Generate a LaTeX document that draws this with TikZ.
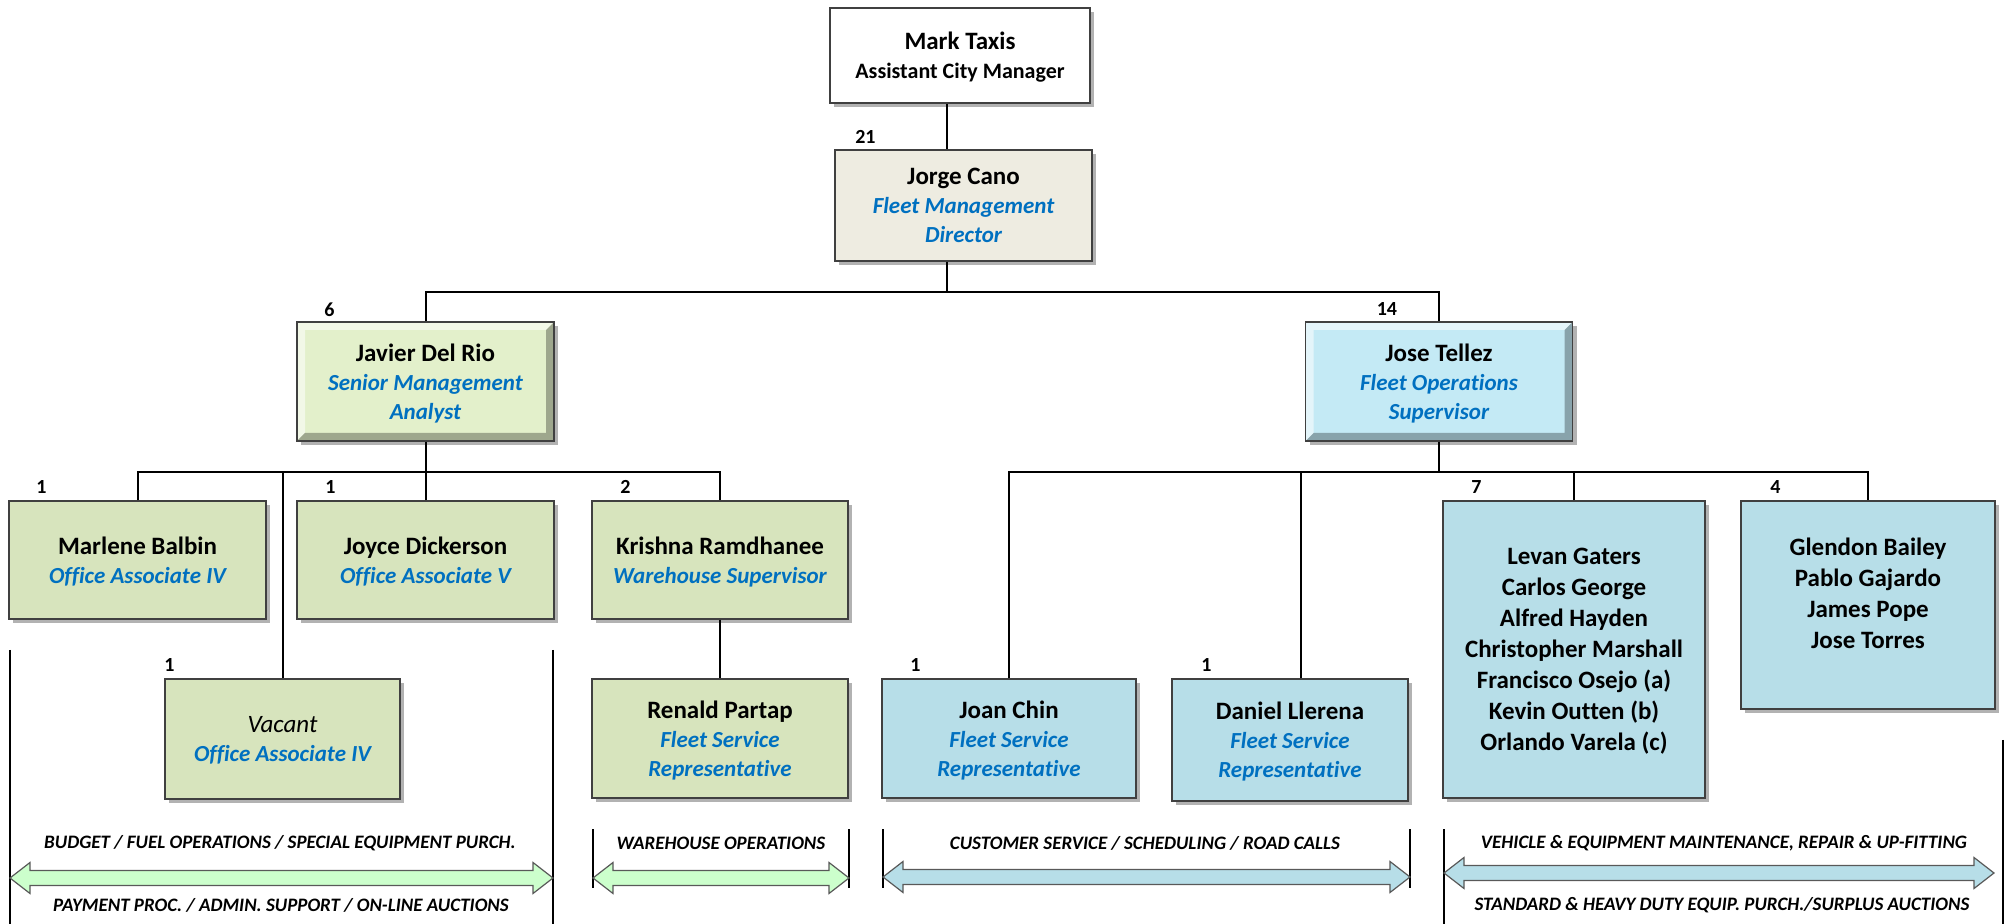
\documentclass[tikz,border=0pt]{standalone}
\usepackage{fontspec}
\setmainfont{Carlito}[Ligatures={TeX,NoCommon}]
\usetikzlibrary{calc,positioning,shadows}
\definecolor{ttlblue}{HTML}{0070C0}
\definecolor{beige}{HTML}{EEECE1}
\definecolor{lgrn}{HTML}{E3F0CB}
\definecolor{lblu}{HTML}{C4EAF5}
\definecolor{grn}{HTML}{D7E4BD}
\definecolor{blu}{HTML}{B7DEE8}
\definecolor{bgrn}{HTML}{CCFFCC}
\newcommand{\ttl}[1]{{\fontsize{11.5}{14.5}\selectfont\itshape\color{ttlblue}#1}}
% band arrow: x from, x to, y, fill
\newcommand{\bandarrow}[4]{%
  \filldraw[band,fill=#4] (#1,#3) -- (#1+20,#3-15.5) -- (#1+20,#3-7.5) -- (#2-20,#3-7.5)
    -- (#2-20,#3-15.5) -- (#2,#3) -- (#2-20,#3+15.5) -- (#2-20,#3+7.5)
    -- (#1+20,#3+7.5) -- (#1+20,#3+15.5) -- cycle;}
\tikzset{
    box/.style={
    rectangle,draw=black!75,line width=0.6pt,align=center,inner sep=0pt,text depth=-2.5pt,
    font=\fontsize{12.5}{14.5}\selectfont\bfseries,
    drop shadow={shadow xshift=2pt,shadow yshift=-2pt,fill=black,opacity=.3}
    },
    gbox/.style={
    box,fill=grn
    },
    bbox/.style={
    box,fill=blu
    },
    list/.style={
    font=\fontsize{12.5}{15.5}\selectfont\bfseries
    },
    bev/.style={
    path picture={
      \path (path picture bounding box.north west) coordinate (bnw)
            (path picture bounding box.south east) coordinate (bse);
      \fill[white,opacity=.55] (bnw) -- (bnw -| bse) -- ++(-4pt,-4pt)
        -- ([shift={(4pt,-4pt)}]bnw) -- ([shift={(4pt,4pt)}]bnw |- bse) -- (bnw |- bse) -- cycle;
      \fill[black,opacity=.3] (bse) -- (bse |- bnw) -- ++(-4pt,-4pt)
        -- ([shift={(-4pt,4pt)}]bse) -- ([shift={(4pt,4pt)}]bnw |- bse) -- (bnw |- bse) -- cycle;
    }
    },
    cnt/.style={
    inner sep=0pt,font=\fontsize{10}{12}\selectfont\bfseries
    },
    lbl/.style={
    inner sep=0pt,font=\fontsize{9.5}{11}\selectfont\bfseries\itshape
    },
    conn/.style={
    line width=1pt
    },
    bar/.style={
    line width=1pt
    },
    band/.style={
    draw=black!65,line width=0.6pt
    },
}
\begin{document}
\begin{tikzpicture}[x=0.5pt,y=-0.5pt]
   \useasboundingbox (0,0) rectangle (2009,924);

   \node[box,fill=white,text depth=-2pt,minimum width=130pt,minimum height=47.5pt] (M) at (960,55.5)
      {Mark Taxis\\{\fontsize{11}{14}\selectfont Assistant City Manager}};
   \node[box,fill=beige,minimum width=128.5pt,minimum height=55.5pt] (J) at (963.5,205.5)
      {Jorge Cano\\\ttl{Fleet Management}\\\ttl{Director}};

   \node[box,bev,fill=lgrn,minimum width=128.5pt,minimum height=59.5pt] (JD) at (425.5,381.5)
      {Javier Del Rio\\\ttl{Senior Management}\\\ttl{Analyst}};
   \node[box,bev,fill=lblu,minimum width=133.5pt,minimum height=59.5pt] (JT) at (1439,381.5)
      {Jose Tellez\\\ttl{Fleet Operations}\\\ttl{Supervisor}};

   \node[gbox,minimum width=128.5pt,minimum height=59pt] (MB) at (137.5,560)
      {Marlene Balbin\\\ttl{Office Associate IV}};
   \node[gbox,minimum width=128.5pt,minimum height=59pt] (JY) at (425.5,560)
      {Joyce Dickerson\\\ttl{Office Associate V}};
   \node[gbox,minimum width=128pt,minimum height=59pt] (KR) at (720,560)
      {Krishna Ramdhanee\\\ttl{Warehouse Supervisor}};
   \node[gbox,minimum width=117.5pt,minimum height=60pt] (VA) at (282.5,739)
      {{\mdseries\itshape Vacant}\\\ttl{Office Associate IV}};
   \node[gbox,minimum width=128pt,minimum height=59.5pt] (RP) at (720,738.5)
      {Renald Partap\\\ttl{Fleet Service}\\\ttl{Representative}};

   \node[bbox,minimum width=127pt,minimum height=59.5pt] (JC) at (1009,738.5)
      {Joan Chin\\\ttl{Fleet Service}\\\ttl{Representative}};
   \node[bbox,minimum width=118pt,minimum height=61pt] (DL) at (1290,740)
      {Daniel Llerena\\\ttl{Fleet Service}\\\ttl{Representative}};
   \node[bbox,list,minimum width=131pt,minimum height=148.5pt] (LG) at (1574,649.5)
      {Levan Gaters\\Carlos George\\Alfred Hayden\\Christopher Marshall\\Francisco Osejo (a)\\Kevin Outten (b)\\Orlando Varela (c)};
   \node[bbox,list,text depth=12pt,minimum width=127pt,minimum height=104pt] (GB) at (1868,605)
      {Glendon Bailey\\Pablo Gajardo\\James Pope\\Jose Torres};

   % head counts
   \node[cnt] (cJ)  at ([shift={(31,-12)}]J.north west) {21};
   \node[cnt] (cJD) at ([shift={(33,-12)}]JD.north west) {6};
   \node[cnt] (cJT) at ([shift={(82,-12)}]JT.north west) {14};
   \node[cnt] (cMB) at ([shift={(33,-13)}]MB.north west) {1};
   \node[cnt] (cJY) at ([shift={(34,-13)}]JY.north west) {1};
   \node[cnt] (cKR) at ([shift={(34,-13)}]KR.north west) {2};
   \node[cnt] (cVA) at ([shift={(5,-13)}]VA.north west) {1};
   \node[cnt] (cJC) at ([shift={(34,-13)}]JC.north west) {1};
   \node[cnt] (cDL) at ([shift={(35,-13)}]DL.north west) {1};
   \node[cnt] (cLG) at ([shift={(34,-13)}]LG.north west) {7};
   \node[cnt] (cGB) at ([shift={(35,-13)}]GB.north west) {4};

   % reporting lines
   \coordinate (js) at (947,292);
   \coordinate (jdb) at (425.5,472);
   \coordinate (jtb) at (1439,472);
   \draw[conn] (M.south -| js) -- (J.north -| js);
   \draw[conn] (J.south -| js) -- (js);
   \draw[conn] (JD.north) |- (js) -| (JT.north);
   \draw[conn] (JD.south) -- (jdb);
   \draw[conn] (MB.north) |- (jdb) -| (KR.north);
   \draw[conn] (JY.north) -- (jdb);
   \draw[conn] (VA.north) -- (VA.north |- jdb);
   \draw[conn] (KR.south) -- (RP.north);
   \draw[conn] (JT.south) -- (jtb);
   \draw[conn] (JC.north) |- (jtb) -| (GB.north);
   \draw[conn] ([xshift=5.5pt]DL.north) -- ([xshift=5.5pt]DL.north |- jtb);
   \draw[conn] (LG.north) -- (LG.north |- jtb);

   % functional areas
   \draw[bar] (10,650) -- (10,924) (553,650) -- (553,924);
   \draw[bar] (593,829) -- (593,888) (849,829) -- (849,888);
   \draw[bar] (883,829) -- (883,888) (1410,829) -- (1410,888);
   \draw[bar] (1444,829) -- (1444,924) (2003,740) -- (2003,924);
   \bandarrow{10}{553}{878}{bgrn}
   \bandarrow{593}{849}{878}{bgrn}
   \bandarrow{883}{1410}{877}{blu}
   \bandarrow{1444}{1994}{873}{blu}

   \node[lbl] (a1) at (280,843) {BUDGET / FUEL OPERATIONS / SPECIAL EQUIPMENT PURCH.};
   \node[lbl] (a2) at (281,905) {PAYMENT PROC. / ADMIN. SUPPORT / ON-LINE AUCTIONS};
   \node[lbl] (a3) at (721,843) {WAREHOUSE OPERATIONS};
   \node[lbl] (a4) at (1145,843) {CUSTOMER SERVICE / SCHEDULING / ROAD CALLS};
   \node[lbl] (a5) at (1724,843) {VEHICLE \& EQUIPMENT MAINTENANCE, REPAIR \& UP-FITTING};
   \node[lbl] (a6) at (1722,905) {STANDARD \& HEAVY DUTY EQUIP. PURCH./SURPLUS AUCTIONS};
\end{tikzpicture}
\end{document}
